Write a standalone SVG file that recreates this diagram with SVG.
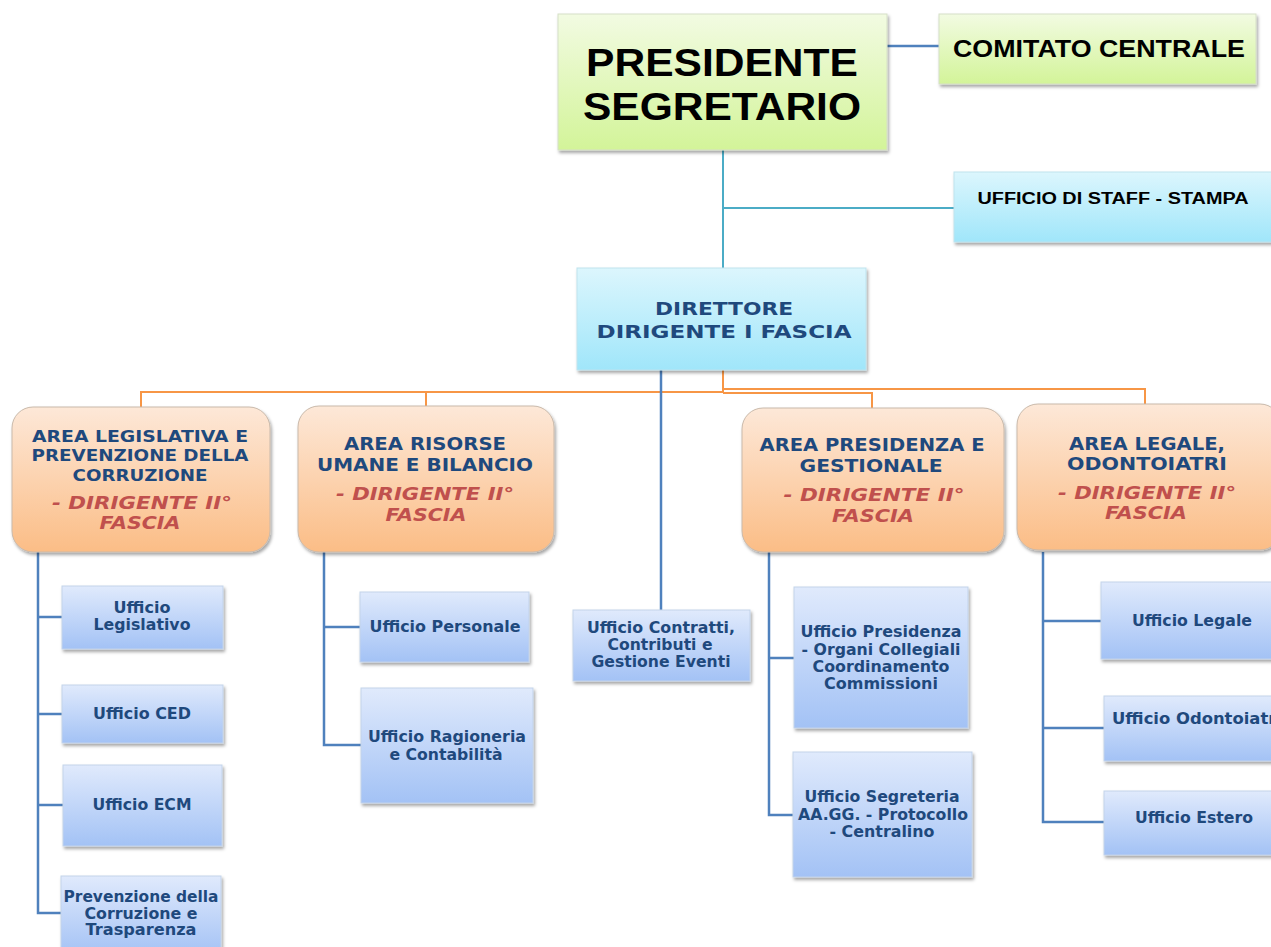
<svg xmlns="http://www.w3.org/2000/svg" width="1271" height="947" viewBox="0 0 1271 947">
<defs>
<linearGradient id="gGreen" x1="0" y1="0" x2="0" y2="1"><stop offset="0" stop-color="#f2fbe2"/><stop offset="1" stop-color="#d3f499"/></linearGradient>
<linearGradient id="gCyan" x1="0" y1="0" x2="0" y2="1"><stop offset="0" stop-color="#dcf6fd"/><stop offset="1" stop-color="#a0e6fa"/></linearGradient>
<linearGradient id="gOrange" x1="0" y1="0" x2="0" y2="1"><stop offset="0" stop-color="#fde8d8"/><stop offset="1" stop-color="#fbbd86"/></linearGradient>
<linearGradient id="gBlue" x1="0" y1="0" x2="0" y2="1"><stop offset="0" stop-color="#e0eafc"/><stop offset="1" stop-color="#a3c2f5"/></linearGradient>
<filter id="sh" x="-10%" y="-10%" width="125%" height="130%"><feDropShadow dx="1.5" dy="2.5" stdDeviation="1.5" flood-color="#000" flood-opacity="0.35"/></filter>
</defs>
<style>
.top{fill:url(#gGreen);stroke:#d6dfc8;stroke-width:1;filter:url(#sh)}
.cyan{fill:url(#gCyan);stroke:#bfe3ee;stroke-width:1;filter:url(#sh)}
.area{fill:url(#gOrange);stroke:#c9b9aa;stroke-width:1;filter:url(#sh)}
.off{fill:url(#gBlue);stroke:#c3d3ea;stroke-width:1;filter:url(#sh)}
.tb{font-family:"Liberation Sans",Arial,sans-serif;font-weight:bold;fill:#000;text-anchor:middle}
.ti{font-family:"DejaVu Sans",Verdana,sans-serif;font-weight:bold;fill:#1f497d;text-anchor:middle}
.tr{font-family:"DejaVu Sans",Verdana,sans-serif;font-weight:bold;font-style:italic;fill:#c0504d;text-anchor:middle;font-size:18px}
.to{font-family:"DejaVu Sans",Verdana,sans-serif;font-weight:bold;fill:#1f497d;text-anchor:middle;font-size:15px}
.cb{fill:none;stroke:#4f81bd;stroke-width:2.5}
.ct{fill:none;stroke:#4bacc6;stroke-width:2}
.co{fill:none;stroke:#f79646;stroke-width:2}
</style>
<g id="connectors">
<path class="cb" d="M887,46 H939"/>
<path class="ct" d="M723,150 V268 M723,208 H954"/>
<path class="co" d="M723,370 V392 H141 V407"/>
<path class="co" stroke-width="3" d="M723,392 H426 V406"/>
<path class="co" d="M723,389 H1145 V404"/>
<path class="co" d="M723,393 H872 V408"/>
<path class="cb" d="M661,370 V610"/>
<path class="cb" d="M38,552 V913 H61 M38,617 H62 M38,714 H62 M38,805 H63"/>
<path class="cb" d="M324,552 V745 H361 M324,627 H360"/>
<path class="cb" d="M769,552 V815 H793 M769,658 H794"/>
<path class="cb" d="M1043,552 V822 H1104 M1043,621 H1101 M1043,728 H1104"/>
</g>
<g id="presidente"><rect class="top" x="558" y="14" width="329" height="136"/>
<text class="tb" x="722" y="76" font-size="38" textLength="272" lengthAdjust="spacingAndGlyphs">PRESIDENTE</text>
<text class="tb" x="722" y="120" font-size="38" textLength="278" lengthAdjust="spacingAndGlyphs">SEGRETARIO</text></g>
<g id="comitato"><rect class="top" x="939" y="14" width="317" height="70"/>
<text class="tb" x="1099" y="57" font-size="24" textLength="292" lengthAdjust="spacingAndGlyphs">COMITATO CENTRALE</text></g>
<g id="staff"><rect class="cyan" x="954" y="172" width="325" height="70"/>
<text class="tb" x="1113" y="204" font-size="16" textLength="271" lengthAdjust="spacingAndGlyphs">UFFICIO DI STAFF - STAMPA</text></g>
<g id="direttore"><rect class="cyan" x="577" y="268" width="289" height="102"/>
<text class="ti" x="724" y="315" font-size="18" textLength="138" lengthAdjust="spacingAndGlyphs">DIRETTORE</text>
<text class="ti" x="724" y="338" font-size="18" textLength="255" lengthAdjust="spacingAndGlyphs">DIRIGENTE I FASCIA</text></g>
<g id="area-legislativa"><rect class="area" x="12" y="407" width="258" height="145" rx="21"/>
<text class="ti" x="140" y="442" font-size="16.5" textLength="216" lengthAdjust="spacingAndGlyphs">AREA LEGISLATIVA E</text>
<text class="ti" x="140" y="461" font-size="16.5" textLength="217" lengthAdjust="spacingAndGlyphs">PREVENZIONE DELLA</text>
<text class="ti" x="140" y="481" font-size="16.5" textLength="135" lengthAdjust="spacingAndGlyphs">CORRUZIONE</text>
<text class="tr" x="142" y="509" textLength="180" lengthAdjust="spacingAndGlyphs">- DIRIGENTE II°</text>
<text class="tr" x="140" y="529" textLength="81" lengthAdjust="spacingAndGlyphs">FASCIA</text></g>
<g id="area-risorse"><rect class="area" x="298" y="406" width="256" height="146" rx="21"/>
<text class="ti" x="425" y="450" font-size="18" textLength="162" lengthAdjust="spacingAndGlyphs">AREA RISORSE</text>
<text class="ti" x="425" y="471" font-size="18" textLength="216" lengthAdjust="spacingAndGlyphs">UMANE E BILANCIO</text>
<text class="tr" x="425" y="500" textLength="178" lengthAdjust="spacingAndGlyphs">- DIRIGENTE II°</text>
<text class="tr" x="426" y="521" textLength="81" lengthAdjust="spacingAndGlyphs">FASCIA</text></g>
<g id="area-presidenza"><rect class="area" x="742" y="408" width="262" height="144" rx="21"/>
<text class="ti" x="872" y="451" font-size="18" textLength="225" lengthAdjust="spacingAndGlyphs">AREA PRESIDENZA E</text>
<text class="ti" x="871" y="472" font-size="18" textLength="143" lengthAdjust="spacingAndGlyphs">GESTIONALE</text>
<text class="tr" x="874" y="501" textLength="181" lengthAdjust="spacingAndGlyphs">- DIRIGENTE II°</text>
<text class="tr" x="873" y="522" textLength="82" lengthAdjust="spacingAndGlyphs">FASCIA</text></g>
<g id="area-legale"><rect class="area" x="1017" y="404" width="264" height="146" rx="21"/>
<text class="ti" x="1147" y="450" font-size="18" textLength="156" lengthAdjust="spacingAndGlyphs">AREA LEGALE,</text>
<text class="ti" x="1147" y="470" font-size="18" textLength="160" lengthAdjust="spacingAndGlyphs">ODONTOIATRI</text>
<text class="tr" x="1147" y="499" textLength="178" lengthAdjust="spacingAndGlyphs">- DIRIGENTE II°</text>
<text class="tr" x="1146" y="519" textLength="82" lengthAdjust="spacingAndGlyphs">FASCIA</text></g>
<g id="uff-legislativo"><rect class="off" x="62" y="586" width="161" height="63"/>
<text class="to" x="142" y="613" textLength="57" lengthAdjust="spacingAndGlyphs">Ufficio</text><text class="to" x="142" y="630" textLength="97" lengthAdjust="spacingAndGlyphs">Legislativo</text></g>
<g id="uff-ced"><rect class="off" x="62" y="685" width="161" height="58"/>
<text class="to" x="142" y="719" textLength="98" lengthAdjust="spacingAndGlyphs">Ufficio CED</text></g>
<g id="uff-ecm"><rect class="off" x="63" y="765" width="159" height="81"/>
<text class="to" x="142" y="810" textLength="99" lengthAdjust="spacingAndGlyphs">Ufficio ECM</text></g>
<g id="uff-prevenzione"><rect class="off" x="61" y="876" width="160" height="80"/>
<text class="to" x="141" y="902" textLength="155" lengthAdjust="spacingAndGlyphs">Prevenzione della</text><text class="to" x="141" y="919" textLength="113" lengthAdjust="spacingAndGlyphs">Corruzione e</text><text class="to" x="141" y="935" textLength="111" lengthAdjust="spacingAndGlyphs">Trasparenza</text></g>
<g id="uff-personale"><rect class="off" x="360" y="592" width="169" height="70"/>
<text class="to" x="445" y="632" textLength="151" lengthAdjust="spacingAndGlyphs">Ufficio Personale</text></g>
<g id="uff-ragioneria"><rect class="off" x="361" y="688" width="172" height="115"/>
<text class="to" x="447" y="742" textLength="158" lengthAdjust="spacingAndGlyphs">Ufficio Ragioneria</text><text class="to" x="446" y="760" textLength="113" lengthAdjust="spacingAndGlyphs">e Contabilità</text></g>
<g id="uff-contratti"><rect class="off" x="573" y="610" width="177" height="71"/>
<text class="to" x="661" y="633" textLength="148" lengthAdjust="spacingAndGlyphs">Ufficio Contratti,</text><text class="to" x="660" y="650" textLength="105" lengthAdjust="spacingAndGlyphs">Contributi e</text><text class="to" x="661" y="667" textLength="139" lengthAdjust="spacingAndGlyphs">Gestione Eventi</text></g>
<g id="uff-presidenza"><rect class="off" x="794" y="587" width="174" height="141"/>
<text class="to" x="881" y="637" textLength="161" lengthAdjust="spacingAndGlyphs">Ufficio Presidenza</text><text class="to" x="881" y="655" textLength="159" lengthAdjust="spacingAndGlyphs">- Organi Collegiali</text><text class="to" x="881" y="672" textLength="137" lengthAdjust="spacingAndGlyphs">Coordinamento</text><text class="to" x="881" y="689" textLength="114" lengthAdjust="spacingAndGlyphs">Commissioni</text></g>
<g id="uff-segreteria"><rect class="off" x="793" y="752" width="179" height="125"/>
<text class="to" x="882" y="802" textLength="155" lengthAdjust="spacingAndGlyphs">Ufficio Segreteria</text><text class="to" x="883" y="820" textLength="170" lengthAdjust="spacingAndGlyphs">AA.GG. - Protocollo</text><text class="to" x="882" y="837" textLength="105" lengthAdjust="spacingAndGlyphs">- Centralino</text></g>
<g id="uff-legale"><rect class="off" x="1101" y="582" width="180" height="77"/>
<text class="to" x="1192" y="626" textLength="120" lengthAdjust="spacingAndGlyphs">Ufficio Legale</text></g>
<g id="uff-odontoiatri"><rect class="off" x="1104" y="696" width="180" height="65"/>
<text class="to" x="1112" y="724" style="text-anchor:start" textLength="170" lengthAdjust="spacingAndGlyphs">Ufficio Odontoiatri</text></g>
<g id="uff-estero"><rect class="off" x="1104" y="791" width="180" height="64"/>
<text class="to" x="1194" y="823" textLength="118" lengthAdjust="spacingAndGlyphs">Ufficio Estero</text></g>
</svg>
